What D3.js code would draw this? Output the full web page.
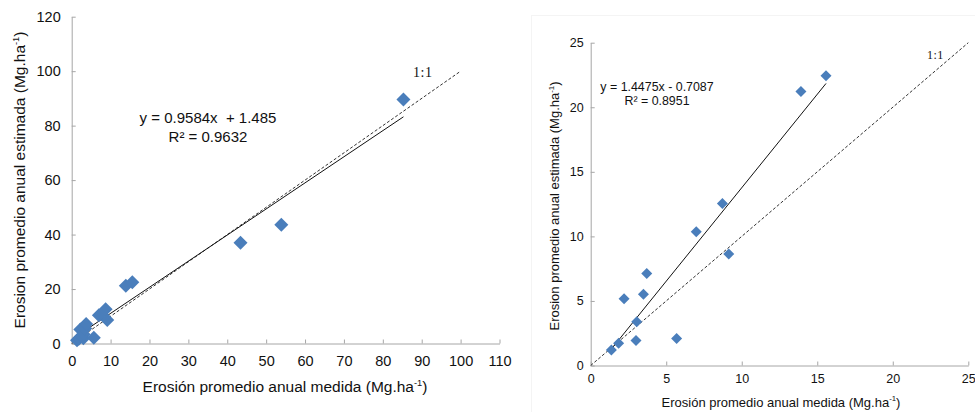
<!DOCTYPE html>
<html>
<head>
<meta charset="utf-8">
<script src="https://cdn.jsdelivr.net/npm/d3@7"></script>
<style>
  body { margin: 0; background: #fff; }
  text { font-family: "Liberation Sans", Arial, sans-serif; fill: #111; }
  .axis path, .axis line { stroke: #a6a6a6; }
</style>
</head>
<body>
<svg id="chart" width="975" height="412"></svg>
<script>
// measured vs estimated erosion, Mg.ha-1
const measured  = [1.37, 1.85, 2.21, 3.0, 3.05, 3.49, 3.71, 5.69, 6.99, 8.72, 9.14, 13.92, 15.58, 43.4, 53.9, 85.3];
const estimated = [1.21, 1.73, 5.16, 1.93, 3.38, 5.52, 7.12, 2.09, 10.35, 12.54, 8.64, 21.23, 22.45, 37.0, 43.6, 89.6];

// left panel uses all points, right panel only the small ones
const leftCount = 16, rightCount = 13;

const leftXTicks = [0, 10, 20, 30, 40, 50, 60, 70, 80, 90, 100, 110];
const leftYTicks = [0, 20, 40, 60, 80, 100, 120];
const rightTicks = [0, 5, 10, 15, 20, 25];

// trendline coefficients [slope, intercept]
const leftFit  = [0.9584, 1.485];
const rightFit = [1.4475, -0.7087];
const leftEq  = ["y = 0.9584x  + 1.485", "R² = 0.9632"];
const rightEq = ["y = 1.4475x - 0.7087", "R² = 0.8951"];

let svg = d3.select("#chart");

// faint frame around the right chart
svg.append("rect")
    .attr("x", 531.5).attr("y", 15.5)
    .attr("width", 460).attr("height", 420)
    .attr("fill", "none").attr("stroke", "#f4f4f4");

function drawPanel(cfg) {
    let x = d3.scaleLinear().domain(cfg.xDomain).range(cfg.xRange);
    let y = d3.scaleLinear().domain(cfg.yDomain).range(cfg.yRange);
    let g = svg.append("g");

    let xAxis = g.append("g").attr("class", "axis")
        .attr("transform", "translate(0," + cfg.yRange[0] + ")")
        .call(d3.axisBottom(x).tickValues(cfg.xTicks).tickSize(-4).tickPadding(cfg.xPad).tickSizeOuter(0));
    xAxis.selectAll("text").style("font-size", cfg.tickFont + "px").attr("fill", "#111");

    let yAxis = g.append("g").attr("class", "axis")
        .attr("transform", "translate(" + cfg.xRange[0] + ",0)")
        .call(d3.axisLeft(y).tickValues(cfg.yTicks).tickSize(-4).tickPadding(cfg.yPad).tickSizeOuter(0));
    yAxis.selectAll("text").style("font-size", cfg.tickFont + "px").attr("fill", "#111");

    // 1:1 line
    let m = cfg.oneToOne;
    g.append("line")
        .attr("x1", x(0)).attr("y1", y(0))
        .attr("x2", x(m)).attr("y2", y(m))
        .attr("stroke", "#333").attr("stroke-width", 1)
        .attr("stroke-dasharray", "3,2");

    g.append("text")
        .attr("x", cfg.oneLabel[0]).attr("y", cfg.oneLabel[1])
        .style("font-family", "'Liberation Serif', serif")
        .style("font-size", cfg.oneFont + "px")
        .style("letter-spacing", "0.5px")
        .attr("fill", "#333")
        .text("1:1");

    let xs = measured.slice(0, cfg.count);
    let ys = estimated.slice(0, cfg.count);

    // trendline over data range
    let x0 = d3.min(xs), x1 = d3.max(xs);
    g.append("line")
        .attr("x1", x(x0)).attr("y1", y(cfg.fit[0] * x0 + cfg.fit[1]))
        .attr("x2", x(x1)).attr("y2", y(cfg.fit[0] * x1 + cfg.fit[1]))
        .attr("stroke", "#111").attr("stroke-width", 1);

    let r = cfg.marker;
    g.selectAll("path.pt")
        .data(xs.map((d, i) => [d, ys[i]]))
        .enter().append("path")
        .attr("class", "pt")
        .attr("d", `M0,${-r} L${r},0 L0,${r} L${-r},0 Z`)
        .attr("transform", d => "translate(" + x(d[0]) + "," + y(d[1]) + ")")
        .attr("fill", "#4a7ebb");

    let eq = g.append("text")
        .attr("text-anchor", "middle")
        .style("white-space", "pre")
        .style("font-size", cfg.eqFont + "px");
    eq.append("tspan").attr("x", cfg.eqPos[0]).attr("y", cfg.eqPos[1]).text(cfg.eq[0]);
    eq.append("tspan").attr("x", cfg.eqPos[0]).attr("y", cfg.eqPos[1] + cfg.eqGap).text(cfg.eq[1]);

    // axis titles
    let xt = g.append("text")
        .attr("text-anchor", "middle")
        .attr("x", cfg.xTitle[0]).attr("y", cfg.xTitle[1])
        .style("font-size", cfg.titleFont + "px");
    xt.append("tspan").text("Erosión promedio anual medida (Mg.ha");
    xt.append("tspan").attr("dy", -cfg.titleFont * 0.4).style("font-size", cfg.titleFont * 0.6 + "px").text("-1");
    xt.append("tspan").attr("dy", cfg.titleFont * 0.4).text(")");

    let yt = g.append("text")
        .attr("text-anchor", "middle")
        .attr("transform", "translate(" + cfg.yTitle[0] + "," + cfg.yTitle[1] + ") rotate(-90)")
        .style("font-size", cfg.titleFont + "px");
    yt.append("tspan").text("Erosion promedio anual estimada (Mg.ha");
    yt.append("tspan").attr("dy", -cfg.titleFont * 0.4).style("font-size", cfg.titleFont * 0.6 + "px").text("-1");
    yt.append("tspan").attr("dy", cfg.titleFont * 0.4).text(")");
}

drawPanel({
    count: leftCount,
    xDomain: [0, 110], xRange: [71.7, 499.5],
    yDomain: [0, 120], yRange: [343.5, 16.7],
    xTicks: leftXTicks, yTicks: leftYTicks,
    tickFont: 14.5, xPad: 12, yPad: 11,
    oneToOne: 100, oneLabel: [413, 77], oneFont: 14,
    fit: leftFit, marker: 7,
    eq: leftEq, eqPos: [208, 122.5], eqGap: 19, eqFont: 15,
    xTitle: [285, 392], yTitle: [25, 180], titleFont: 15.5
});

drawPanel({
    count: rightCount,
    xDomain: [0, 25], xRange: [590.7, 968.3],
    yDomain: [0, 25], yRange: [365.5, 42.7],
    xTicks: rightTicks, yTicks: rightTicks,
    tickFont: 12.5, xPad: 9, yPad: 7,
    oneToOne: 25, oneLabel: [927, 59], oneFont: 12,
    fit: rightFit, marker: 5.5,
    eq: rightEq, eqPos: [657, 90.5], eqGap: 14, eqFont: 12.4,
    xTitle: [781, 406.5], yTitle: [559, 206], titleFont: 13
});
</script>
</body>
</html>
